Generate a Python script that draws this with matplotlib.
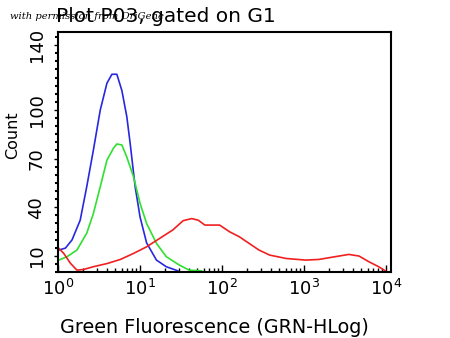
import numpy as np
import matplotlib
matplotlib.use('Agg')
import matplotlib.pyplot as plt
from matplotlib.ticker import LogLocator, FixedLocator, MultipleLocator

# ========================
# 数据（从图上读取，x为log10荧光强度）
# ========================
blue_logx = [0.01, 0.09, 0.17, 0.27, 0.35, 0.43, 0.515, 0.596, 0.657, 0.717,
             0.778, 0.838, 0.879, 0.94, 1.0, 1.08, 1.2, 1.32, 1.46]
blue_count = [13.6, 14.8, 19.8, 32, 52.7, 75, 100, 116.5, 122, 122,
              112, 96, 79.5, 52.7, 34, 18, 7.4, 3.3, 0.8]

green_logx = [0.01, 0.11, 0.23, 0.35, 0.43, 0.515, 0.596, 0.677, 0.717, 0.778,
              0.838, 0.919, 1.0, 1.08, 1.2, 1.32, 1.48, 1.6, 1.75]
green_count = [7.4, 9.5, 13.6, 24, 36, 52.7, 69, 76.5, 79, 78.4,
               71, 59, 42.4, 30, 17.7, 9.5, 4.3, 1.2, 0.8]

red_logx = [0.01, 0.07, 0.15, 0.23, 0.31, 0.43, 0.6, 0.76, 0.92, 1.08,
            1.24, 1.4, 1.525, 1.63, 1.71, 1.79, 1.97, 2.09, 2.21, 2.33,
            2.45, 2.58, 2.78, 3.02, 3.18, 3.38, 3.545, 3.67, 3.79, 3.91, 3.99]
red_count = [14.6, 11.5, 5.5, 1.2, 1.6, 3.3, 5.3, 7.8, 11.5, 15.6,
             20.8, 26, 31.7, 33, 32, 29, 29, 24.9, 21.8, 17.7,
             13.6, 10.5, 8.4, 7.4, 7.8, 9.5, 10.9, 9.9, 6.4, 3.3, 0.8]

y_ticks = [10, 40, 70, 100, 140]

# ========================
# 画图
# ========================
fig = plt.figure(figsize=(4.5, 3.38), dpi=100)
ax = fig.add_axes([0.129, 0.195, 0.740, 0.710])

ax.plot(10 ** np.array(blue_logx), blue_count, color='#2828e0', lw=1.2)
ax.plot(10 ** np.array(green_logx), green_count, color='#30e030', lw=1.2)
ax.plot(10 ** np.array(red_logx), red_count, color='#f02020', lw=1.2)

ax.set_xscale('log')
ax.set_xlim(1, 1.15e4)
ax.set_ylim(0, 148)

ax.xaxis.set_major_locator(LogLocator(base=10, numticks=10))
ax.xaxis.set_minor_locator(LogLocator(base=10, subs=np.arange(2, 10), numticks=20))
ax.tick_params(axis='x', which='major', direction='in', length=5, width=1, labelsize=13, pad=5)
ax.tick_params(axis='x', which='minor', direction='in', length=3, width=1)

ax.yaxis.set_major_locator(FixedLocator(y_ticks))
ax.yaxis.set_minor_locator(MultipleLocator(5))
ax.tick_params(axis='y', which='major', direction='out', length=3, width=1, labelsize=13, pad=6)
ax.tick_params(axis='y', which='minor', direction='out', length=2, width=1.5)
for lab in ax.get_yticklabels():
    lab.set_rotation(90)
    lab.set_va('center')

for s in ax.spines.values():
    s.set_linewidth(1.5)
    s.set_color('black')

ax.set_xlabel('Green Fluorescence (GRN-HLog)', fontsize=13.8)
ax.xaxis.set_label_coords(0.47, -0.19)
ax.set_ylabel('Count', fontsize=11.5)
ax.yaxis.set_label_coords(-0.115, 0.57)

fig.text(0.369, 0.95, 'Plot P03, gated on G1', fontsize=14.5, ha='center', va='center')
fig.text(0.022, 0.952, 'with permission from OriGene', fontsize=7.2, style='italic',
         family='DejaVu Serif', ha='left', va='center')

fig.savefig('out.png', dpi=100)
